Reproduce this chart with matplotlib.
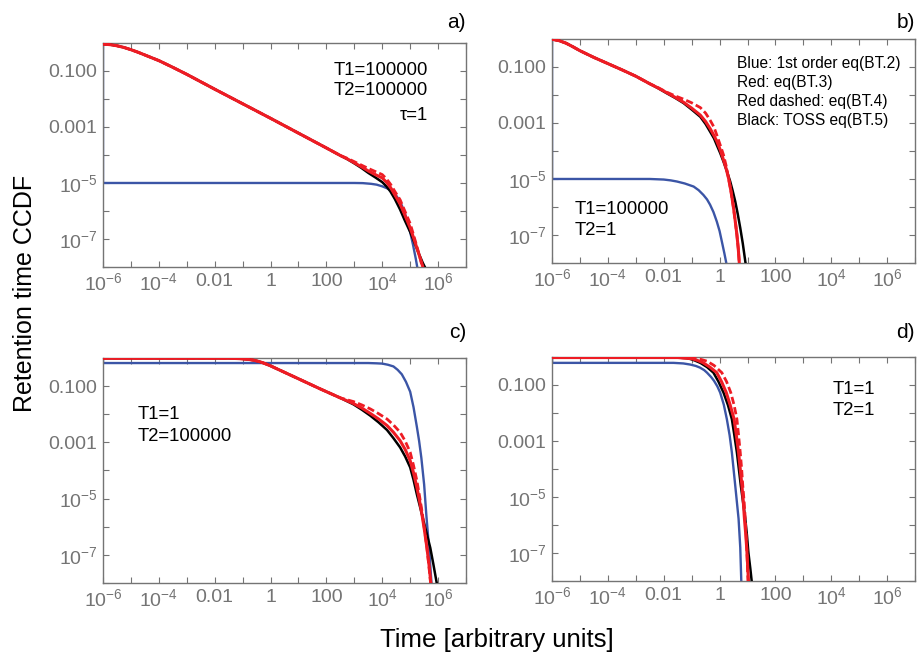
import numpy as np
import matplotlib
matplotlib.use("Agg")
import matplotlib.pyplot as plt

plt.rcParams['font.family'] = ['Liberation Sans', 'DejaVu Sans']
plt.rcParams['mathtext.default'] = 'regular'

# all curve values are log10(time), log10(CCDF)

# panel a) T1=100000, T2=100000
a_blue_t = [-6, -6, 3.0, 3.3, 3.6, 3.8, 4.0, 4.15, 4.29, 4.4, 4.5, 4.6, 4.7, 4.8,
            4.9, 5.0, 5.1, 5.2, 5.27]
a_blue_y = [0.0, -5.0, -5.0, -5.005, -5.03, -5.06, -5.12, -5.18, -5.25, -5.33, -5.45,
            -5.6, -5.8, -6.05, -6.38, -6.75, -7.2, -7.7, -8.1]
a_head_t = [-6, -5.75, -5.5, -5.25, -5, -4.75, -4.5, -4.25, -4, -3.5, -3, -2, -1, 0, 1, 2, 2.5]
a_head_y = [-0.04, -0.06, -0.1, -0.16, -0.24, -0.33, -0.43, -0.53, -0.63, -0.87, -1.12,
            -1.65, -2.17, -2.69, -3.22, -3.75, -4.02]
a_black_t = [2.75, 3.0, 3.25, 3.5, 3.75, 4.0, 4.15, 4.29, 4.45, 4.64, 4.8, 5.0, 5.15,
             5.3, 5.45, 5.6]
a_black_y = [-4.15, -4.3, -4.46, -4.64, -4.8, -4.97, -5.12, -5.3, -5.57, -5.95, -6.32,
             -6.75, -7.12, -7.5, -7.85, -8.15]
a_red_t = [2.75, 3.0, 3.25, 3.5, 3.75, 4.0, 4.15, 4.29, 4.45, 4.64, 4.8, 5.0, 5.12,
           5.25, 5.38, 5.5]
a_red_y = [-4.14, -4.28, -4.42, -4.57, -4.7, -4.82, -4.97, -5.15, -5.42, -5.75, -6.12,
           -6.6, -6.95, -7.35, -7.75, -8.15]
a_dash_t = [2.75, 3.0, 3.25, 3.5, 3.75, 4.0, 4.15, 4.3, 4.45, 4.64, 4.8, 5.0, 5.12,
            5.25, 5.36, 5.47]
a_dash_y = [-4.12, -4.24, -4.36, -4.48, -4.59, -4.7, -4.85, -5.05, -5.3, -5.6, -5.98,
            -6.45, -6.85, -7.3, -7.7, -8.15]

# panel b) T1=100000, T2=1
b_blue_t = [-6, -6, -2.5, -2.0, -1.75, -1.53, -1.25, -0.93, -0.75, -0.58, -0.45, -0.34,
            -0.22, -0.1, 0.0, 0.08, 0.17, 0.26]
b_blue_y = [0.0, -5.0, -5.0, -5.02, -5.05, -5.09, -5.16, -5.27, -5.4, -5.57, -5.73,
            -5.92, -6.18, -6.52, -6.86, -7.23, -7.65, -8.1]
b_head_t = [-6, -5.75, -5.5, -5.25, -5, -4.5, -4, -3.5, -3, -2.5]
b_head_y = [-0.01, -0.06, -0.15, -0.28, -0.42, -0.66, -0.88, -1.1, -1.33, -1.6]
b_black_t = [-2.2, -1.89, -1.6, -1.29, -1.0, -0.69, -0.5, -0.34, -0.2, -0.1, 0.02, 0.14,
             0.26, 0.38, 0.47, 0.56, 0.65, 0.74, 0.83, 0.92, 0.96]
b_black_y = [-1.76, -1.94, -2.1, -2.29, -2.52, -2.78, -3.04, -3.31, -3.55, -3.79, -4.07,
             -4.38, -4.72, -5.09, -5.43, -5.8, -6.25, -6.75, -7.3, -7.94, -8.2]
b_red_t = [-2.2, -1.89, -1.6, -1.29, -1.0, -0.69, -0.5, -0.34, -0.2, -0.1, 0.02, 0.14,
           0.24, 0.32, 0.41, 0.5, 0.56, 0.62, 0.67, 0.72]
b_red_y = [-1.75, -1.92, -2.08, -2.26, -2.47, -2.72, -2.95, -3.2, -3.45, -3.65, -3.95,
           -4.32, -4.65, -4.97, -5.45, -6.04, -6.5, -6.99, -7.5, -8.2]
b_dash_t = [-2.2, -1.89, -1.6, -1.29, -1.0, -0.69, -0.5, -0.34, -0.2, -0.1, 0.02, 0.14,
            0.24, 0.32, 0.41, 0.5, 0.56, 0.62, 0.67, 0.72]
b_dash_y = [-1.74, -1.9, -2.03, -2.15, -2.28, -2.45, -2.65, -2.9, -3.15, -3.43, -3.78,
            -4.14, -4.55, -4.97, -5.45, -6.04, -6.5, -7.0, -7.5, -8.2]

# panel c) T1=1, T2=100000
c_blue_t = [-6, -6, 3.5, 3.8, 4.0, 4.2, 4.4, 4.55, 4.7, 4.85, 5.0, 5.12, 5.24, 5.32,
            5.4, 5.5, 5.58, 5.68, 5.77]
c_blue_y = [0.0, -0.18, -0.18, -0.19, -0.2, -0.24, -0.3, -0.42, -0.58, -0.85, -1.2,
            -1.75, -2.45, -2.95, -3.55, -4.5, -5.6, -6.8, -8.1]
c_head_t = [-6, -1.5, -1.2, -1.0, -0.8, -0.6, -0.4, -0.25, 0, 0.5, 1.0, 1.78, 2.5]
c_head_y = [-0.01, -0.01, -0.02, -0.03, -0.05, -0.08, -0.13, -0.18, -0.28, -0.51, -0.74,
            -1.1, -1.42]
c_black_t = [2.97, 3.27, 3.57, 3.87, 4.17, 4.4, 4.64, 4.82, 5.0, 5.12, 5.24, 5.36, 5.48,
             5.6, 5.72, 5.83, 5.94, 5.97]
c_black_y = [-1.65, -1.84, -2.05, -2.29, -2.56, -2.85, -3.18, -3.5, -3.89, -4.33, -4.85,
             -5.32, -5.8, -6.27, -6.75, -7.33, -7.94, -8.1]
c_red_t = [2.97, 3.27, 3.57, 3.87, 4.17, 4.4, 4.64, 4.82, 5.0, 5.12, 5.24, 5.33, 5.42,
           5.51, 5.6, 5.68, 5.75]
c_red_y = [-1.62, -1.78, -1.97, -2.17, -2.4, -2.64, -2.94, -3.25, -3.65, -4.08, -4.6,
           -5.05, -5.55, -6.12, -6.75, -7.4, -8.1]
c_dash_t = [2.97, 3.27, 3.57, 3.87, 4.17, 4.4, 4.64, 4.82, 5.0, 5.12, 5.24, 5.33, 5.42,
            5.51, 5.6, 5.67, 5.74]
c_dash_y = [-1.55, -1.67, -1.81, -1.98, -2.17, -2.38, -2.64, -2.95, -3.35, -3.82, -4.36,
            -4.88, -5.43, -6.07, -6.75, -7.4, -8.1]

# panel d) T1=1, T2=1
d_blue_t = [-6, -6, -1.65, -1.3, -1.05, -0.85, -0.7, -0.55, -0.45, -0.3, -0.2, -0.08,
            0.02, 0.15, 0.26, 0.36, 0.44, 0.56, 0.68, 0.74, 0.78]
d_blue_y = [0.0, -0.21, -0.21, -0.23, -0.27, -0.32, -0.38, -0.47, -0.56, -0.72, -0.85,
            -1.05, -1.27, -1.7, -2.22, -2.8, -3.41, -4.59, -5.78, -6.8, -8.1]
d_black_t = [-6, -1.5, -1.2, -1.05, -0.9, -0.69, -0.45, -0.22, -0.04, 0.14, 0.3, 0.44,
             0.53, 0.62, 0.69, 0.76, 0.84, 0.92, 0.98, 1.03, 1.1, 1.16]
d_black_y = [-0.02, -0.02, -0.04, -0.07, -0.12, -0.21, -0.36, -0.56, -0.88, -1.27, -1.72,
             -2.22, -2.8, -3.41, -4.0, -4.59, -5.18, -5.78, -6.37, -6.97, -7.55, -8.1]
d_red_t = [-6, -1.5, -1.0, -0.8, -0.6, -0.35, -0.1, 0.07, 0.24, 0.38, 0.52, 0.6, 0.68,
           0.74, 0.8, 0.85, 0.89, 0.94, 0.98, 1.01, 1.04]
d_red_y = [-0.02, -0.02, -0.06, -0.12, -0.2, -0.36, -0.56, -0.88, -1.27, -1.72, -2.22,
           -2.8, -3.41, -4.0, -4.59, -5.18, -5.78, -6.37, -6.97, -7.55, -8.1]
d_dash_t = [-6, -1.5, -1.2, -0.9, -0.65, -0.45, -0.2, 0.08, 0.25, 0.4, 0.52, 0.62, 0.68,
            0.74, 0.79, 0.83, 0.88, 0.92, 0.95, 0.98, 1.0, 1.02]
d_dash_y = [-0.02, -0.02, -0.03, -0.05, -0.09, -0.15, -0.3, -0.56, -0.88, -1.27, -1.72,
            -2.22, -2.8, -3.41, -4.0, -4.59, -5.18, -5.78, -6.37, -6.97, -7.55, -8.1]

x_decades = list(range(-6, 8))
x_labels = {-6: '$10^{-6}$', -4: '$10^{-4}$', -2: '0.01', 0: '1', 2: '100',
            4: '$10^{4}$', 6: '$10^{6}$'}
y_decades = list(range(-8, 1))
y_labels = {-1: '0.100', -3: '0.001', -5: '$10^{-5}$', -7: '$10^{-7}$'}

BLUE = '#3b55a6'
RED = '#ee1c24'
GRAY = '#747474'

fig = plt.figure(figsize=(9.23, 6.56), dpi=100)

positions = {
    'a': [0.1116, 0.5930, 0.3933, 0.3415],
    'b': [0.5981, 0.5991, 0.3933, 0.3415],
    'c': [0.1116, 0.1113, 0.3933, 0.3430],
    'd': [0.5981, 0.1143, 0.3933, 0.3415],
}


def lg(v):
    return 10.0 ** np.array(v)


def setup(ax):
    ax.set_xscale('log')
    ax.set_yscale('log')
    ax.set_xlim(1e-6, 1e7)
    ax.set_ylim(1e-8, 1)
    ax.set_xticks([10.0 ** d for d in x_decades])
    ax.set_xticklabels([x_labels.get(d, '') for d in x_decades])
    ax.set_yticks([10.0 ** d for d in y_decades])
    ax.set_yticklabels([y_labels.get(d, '') for d in y_decades])
    ax.minorticks_off()
    ax.tick_params(which='both', direction='in', length=4, width=0.8,
                   color=GRAY, labelcolor=GRAY, labelsize=14,
                   top=True, right=True, pad=4)
    for s in ax.spines.values():
        s.set_color(GRAY)
        s.set_linewidth(1.0)


def draw(ax, blue, black, red, dash, head=None):
    ax.plot(lg(blue[0]), lg(blue[1]), color=BLUE, lw=1.7, zorder=2)
    if head is not None:
        bt, by = head[0] + black[0], head[1] + black[1]
        rt, ry = head[0] + red[0], head[1] + red[1]
        dt, dy = head[0] + dash[0], head[1] + dash[1]
    else:
        bt, by = black
        rt, ry = red
        dt, dy = dash
    ax.plot(lg(bt), lg(by), color='black', lw=1.8, zorder=3)
    ax.plot(lg(rt), lg(ry), color=RED, lw=2.2, zorder=4)
    ax.plot(lg(dt), lg(dy), color=RED, lw=2.0, dashes=(2.6, 1.2), zorder=5)


ax_a = fig.add_axes(positions['a'])
setup(ax_a)
draw(ax_a, (a_blue_t, a_blue_y), (a_black_t, a_black_y), (a_red_t, a_red_y),
     (a_dash_t, a_dash_y), head=(a_head_t, a_head_y))
ax_a.text(0.895, 0.879, 'T1=100000', transform=ax_a.transAxes, ha='right', va='center', fontsize=13.3)
ax_a.text(0.895, 0.790, 'T2=100000', transform=ax_a.transAxes, ha='right', va='center', fontsize=13.3)
ax_a.text(0.895, 0.674, 'τ=1', transform=ax_a.transAxes, ha='right', va='center', fontsize=13.3)

ax_b = fig.add_axes(positions['b'])
setup(ax_b)
draw(ax_b, (b_blue_t, b_blue_y), (b_black_t, b_black_y), (b_red_t, b_red_y),
     (b_dash_t, b_dash_y), head=(b_head_t, b_head_y))
legend_lines = ['Blue: 1st order eq(BT.2)', 'Red: eq(BT.3)',
                'Red dashed: eq(BT.4)', 'Black: TOSS eq(BT.5)']
for i, line in enumerate(legend_lines):
    ax_b.text(0.509, 0.891 - i * 0.0843, line, transform=ax_b.transAxes,
              ha='left', va='center', fontsize=11.2)
ax_b.text(0.061, 0.240, 'T1=100000', transform=ax_b.transAxes, ha='left', va='center', fontsize=13.3)
ax_b.text(0.061, 0.147, 'T2=1', transform=ax_b.transAxes, ha='left', va='center', fontsize=13.3)

ax_c = fig.add_axes(positions['c'])
setup(ax_c)
draw(ax_c, (c_blue_t, c_blue_y), (c_black_t, c_black_y), (c_red_t, c_red_y),
     (c_dash_t, c_dash_y), head=(c_head_t, c_head_y))
ax_c.text(0.096, 0.747, 'T1=1', transform=ax_c.transAxes, ha='left', va='center', fontsize=13.3)
ax_c.text(0.096, 0.653, 'T2=100000', transform=ax_c.transAxes, ha='left', va='center', fontsize=13.3)

ax_d = fig.add_axes(positions['d'])
setup(ax_d)
draw(ax_d, (d_blue_t, d_blue_y), (d_black_t, d_black_y), (d_red_t, d_red_y),
     (d_dash_t, d_dash_y))
ax_d.text(0.773, 0.853, 'T1=1', transform=ax_d.transAxes, ha='left', va='center', fontsize=13.3)
ax_d.text(0.773, 0.763, 'T2=1', transform=ax_d.transAxes, ha='left', va='center', fontsize=13.3)

# panel letters
fig.text(466 / 923, 1 - 22 / 656, 'a)', ha='right', va='center', fontsize=15)
fig.text(915 / 923, 1 - 22 / 656, 'b)', ha='right', va='center', fontsize=15)
fig.text(466 / 923, 1 - 333 / 656, 'c)', ha='right', va='center', fontsize=15)
fig.text(915 / 923, 1 - 333 / 656, 'd)', ha='right', va='center', fontsize=15)

fig.text(25 / 923, 1 - 293 / 656, 'Retention time CCDF', rotation=90,
         ha='center', va='center', fontsize=18)
fig.text(497 / 923, 1 - 640 / 656, 'Time [arbitrary units]',
         ha='center', va='center', fontsize=18.5)

fig.savefig('out.png', dpi=100)
